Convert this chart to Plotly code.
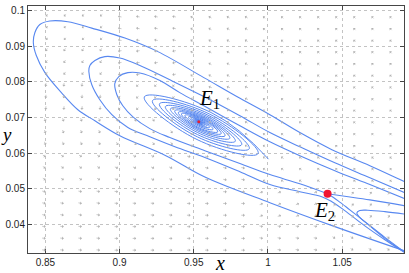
import math
import plotly.graph_objects as go

# ---------------- data ----------------
# outer trajectory A (enters at right edge, loops round E1, leaves at lower right)
traj_a_x = [1.0956, 1.0687, 1.0431, 1.0215, 1.0013, 0.9790, 0.9568, 0.9258, 0.9036, 0.8813,
            0.8652, 0.8530, 0.8463, 0.8429, 0.8419, 0.8439, 0.8497, 0.8608, 0.8719, 0.8834,
            0.9002, 0.9312, 0.9575, 1.0013, 1.0451, 1.0956]
traj_a_y = [0.0513, 0.0565, 0.0610, 0.0658, 0.0708, 0.0759, 0.0812, 0.0885, 0.0923, 0.0951,
            0.0969, 0.0971, 0.0961, 0.0938, 0.0910, 0.0874, 0.0826, 0.0770, 0.0722, 0.0691,
            0.0649, 0.0593, 0.0533, 0.0461, 0.0394, 0.0321]

# trajectory B (passes just below the saddle E2)
traj_b_x = [1.0956, 1.0687, 1.0451, 1.0215, 1.0013, 0.9811, 0.9568, 0.9339, 0.9137, 0.9002,
            0.8901, 0.8834, 0.8800, 0.8793, 0.8813, 0.8867, 0.8948, 0.9056, 0.9204, 0.9373,
            0.9575, 0.9811, 1.0013, 1.0215, 1.0363, 1.0431, 1.0518, 1.0653, 1.0788, 1.0956]
traj_b_y = [0.0483, 0.0531, 0.0573, 0.0618, 0.0658, 0.0705, 0.0759, 0.0806, 0.0846, 0.0867,
            0.0871, 0.0860, 0.0846, 0.0829, 0.0792, 0.0750, 0.0708, 0.0672, 0.0646, 0.0618,
            0.0588, 0.0548, 0.0512, 0.0492, 0.0478, 0.0464, 0.0439, 0.0396, 0.0357, 0.0312]

# trajectory C (separatrix ending in E2)
traj_c_x = [1.0956, 1.0687, 1.0451, 1.0215, 1.0013, 0.9811, 0.9568, 0.9406, 0.9272, 0.9137,
            0.9056, 0.8995, 0.8968, 0.8982, 0.9022, 0.9090, 0.9204, 0.9339, 0.9575, 0.9811,
            1.0013, 1.0215, 1.0402]
traj_c_y = [0.0467, 0.0512, 0.0551, 0.0593, 0.0632, 0.0677, 0.0733, 0.0770, 0.0804, 0.0825,
            0.0826, 0.0815, 0.0795, 0.0764, 0.0733, 0.0702, 0.0669, 0.0644, 0.0607, 0.0571,
            0.0540, 0.0514, 0.0486]

# stable branch of E2 coming from the right
stable_x = [1.0956, 1.0687, 1.0518, 1.0402]
stable_y = [0.0450, 0.0469, 0.0479, 0.0486]

# unstable branch of E2 going to the lower right corner
unstable_x = [1.0402, 1.0471, 1.0552, 1.0653, 1.0788, 1.0956]
unstable_y = [0.0486, 0.0467, 0.0441, 0.0408, 0.0364, 0.0312]

# hook-shaped trajectory right of E2
hook_x = [1.0956, 1.0788, 1.0673, 1.0619, 1.0599, 1.0619, 1.0687, 1.0788, 1.0956]
hook_y = [0.0427, 0.0436, 0.0440, 0.0439, 0.0432, 0.0420, 0.0396, 0.0361, 0.0312]

# spiral into the focus E1
spiral_x = [1.0004, 0.9617, 0.9167, 0.9522, 0.9934, 0.9604, 0.9222, 0.9524, 0.9874, 0.9594,
            0.9269, 0.9525, 0.9823, 0.9585, 0.9309, 0.9527, 0.9780, 0.9577, 0.9343, 0.9528,
            0.9743, 0.9571, 0.9372, 0.9529, 0.9711, 0.9565, 0.9396, 0.9530, 0.9685, 0.9561,
            0.9417, 0.9530, 0.9662, 0.9556, 0.9440, 0.9531, 0.9630, 0.9551, 0.9464, 0.9532,
            0.9606, 0.9547, 0.9482, 0.9533, 0.9588, 0.9544, 0.9495, 0.9533, 0.9575, 0.9541,
            0.9505, 0.9533, 0.9564, 0.9540, 0.9512, 0.9534, 0.9557, 0.9538, 0.9518, 0.9534,
            0.9551, 0.9537, 0.9522, 0.9534, 0.9547, 0.9534]
spiral_y = [0.05832, 0.07141, 0.07581, 0.06384, 0.05990, 0.07103, 0.07476, 0.06459, 0.06124, 0.07070,
            0.07386, 0.06523, 0.06238, 0.07042, 0.07311, 0.06577, 0.06335, 0.07018, 0.07247, 0.06624,
            0.06418, 0.06998, 0.07192, 0.06663, 0.06488, 0.06981, 0.07146, 0.06696, 0.06548, 0.06966,
            0.07106, 0.06724, 0.06598, 0.06952, 0.07062, 0.06760, 0.06669, 0.06935, 0.07017, 0.06791,
            0.06723, 0.06922, 0.06984, 0.06814, 0.06764, 0.06913, 0.06958, 0.06832, 0.06793, 0.06905,
            0.06940, 0.06845, 0.06817, 0.06900, 0.06926, 0.06855, 0.06833, 0.06896, 0.06915, 0.06862,
            0.06846, 0.06893, 0.06907, 0.06868, 0.06856, 0.06884]

# equilibria
eq_x = [0.9534, 1.0402]
eq_y = [0.0688, 0.0486]
eq_labels = ["E", "E"]
eq_subs = ["1", "2"]
label_x = [0.9608, 1.0383]
label_y = [0.0753, 0.0439]

# direction-field grid
field_x = [0.8502, 0.8624, 0.8746, 0.8868, 0.8990, 0.9112, 0.9234, 0.9356, 0.9478, 0.9600,
           0.9722, 0.9844, 0.9966, 1.0088, 1.0210, 1.0332, 1.0454, 1.0576, 1.0698, 1.0820]
field_y = [0.0984, 0.0951, 0.0918, 0.0886, 0.0853, 0.0820, 0.0787, 0.0754, 0.0722, 0.0689,
           0.0656, 0.0623, 0.0590, 0.0558, 0.0525, 0.0492, 0.0459, 0.0426, 0.0394, 0.0361, 0.0328]
# arrow angle (degrees) per block: rows = bands of 3 grid rows (top->bottom), cols = bands of 4 grid columns
field_angle = [
    [220, 170, 150, 140, 135],
    [240, 190, 150, 140, 135],
    [265, 220, 160, 140, 135],
    [290, 300, 150, 140, 135],
    [330, 340, 350, 145, 140],
    [350, 355, 0, 20, 60],
    [355, 0, 0, 350, 330],
]

x_ticks = [0.85, 0.9, 0.95, 1.0, 1.05]
x_tick_text = ["0.85", "0.9", "0.95", "1", "1.05"]
y_ticks = [0.04, 0.05, 0.06, 0.07, 0.08, 0.09, 0.1]
y_tick_text = ["0.04", "0.05", "0.06", "0.07", "0.08", "0.09", "0.1"]

# ---------------- figure ----------------
LINE = "rgb(88,136,240)"
fig = go.Figure()

for xs, ys in [(traj_a_x, traj_a_y), (traj_b_x, traj_b_y), (traj_c_x, traj_c_y),
               (stable_x, stable_y), (unstable_x, unstable_y), (hook_x, hook_y)]:
    fig.add_trace(go.Scatter(x=xs, y=ys, mode="lines",
                             line=dict(color=LINE, width=1.1, shape="spline", smoothing=1.0),
                             hoverinfo="skip"))

fig.add_trace(go.Scatter(x=spiral_x, y=spiral_y, mode="lines",
                         line=dict(color=LINE, width=1.0, shape="spline", smoothing=1.3),
                         hoverinfo="skip"))

fig.add_trace(go.Scatter(x=[eq_x[0]], y=[eq_y[0]], mode="markers",
                         marker=dict(color="rgb(230,30,50)", size=3)))
fig.add_trace(go.Scatter(x=[eq_x[1]], y=[eq_y[1]], mode="markers",
                         marker=dict(color="rgb(240,20,50)", size=8)))

annotations = []
L = 5.0
for j, yv in enumerate(field_y):
    for i, xv in enumerate(field_x):
        ang = math.radians(field_angle[min(j // 3, 6)][min(i // 4, 4)])
        annotations.append(dict(
            x=xv, y=yv, xref="x", yref="y", text="", showarrow=True,
            ax=-L * math.cos(ang), ay=L * math.sin(ang),
            arrowhead=1, arrowsize=0.8, arrowwidth=0.7,
            arrowcolor="rgb(178,178,178)", standoff=0, startstandoff=0))

for lx, ly, t, s in zip(label_x, label_y, eq_labels, eq_subs):
    annotations.append(dict(
        x=lx, y=ly, xref="x", yref="y", showarrow=False,
        text="<i>%s</i><sub>%s</sub>" % (t, s),
        font=dict(family="Liberation Serif", size=21, color="black")))

annotations.append(dict(x=0.511, y=-0.04, xref="paper", yref="paper", showarrow=False,
                        text="<i>x</i>", yanchor="middle",
                        font=dict(family="Liberation Serif", size=20, color="black")))
annotations.append(dict(x=-0.056, y=0.48, xref="paper", yref="paper", showarrow=False,
                        text="<i>y</i>", xanchor="center", yanchor="middle",
                        font=dict(family="Liberation Serif", size=19, color="black")))

axis_common = dict(showgrid=True, gridcolor="rgb(195,195,195)", griddash="dot", gridwidth=1,
                   showline=True, mirror="allticks", linecolor="rgb(70,70,70)", linewidth=1,
                   ticks="inside", ticklen=4, tickcolor="rgb(70,70,70)",
                   tickfont=dict(family="Liberation Sans", size=10, color="rgb(30,30,30)"),
                   zeroline=False)

fig.update_layout(
    width=409, height=273,
    margin=dict(l=28, r=5, t=6, b=20),
    plot_bgcolor="white", paper_bgcolor="white",
    showlegend=False,
    xaxis=dict(range=[0.8383, 1.0917], tickvals=x_ticks, ticktext=x_tick_text, **axis_common),
    yaxis=dict(range=[0.0320, 0.1013], tickvals=y_ticks, ticktext=y_tick_text, **axis_common),
    annotations=annotations,
)

fig.write_html("out.html", config={"displayModeBar": False},
               post_script="document.body.style.margin='0';")
